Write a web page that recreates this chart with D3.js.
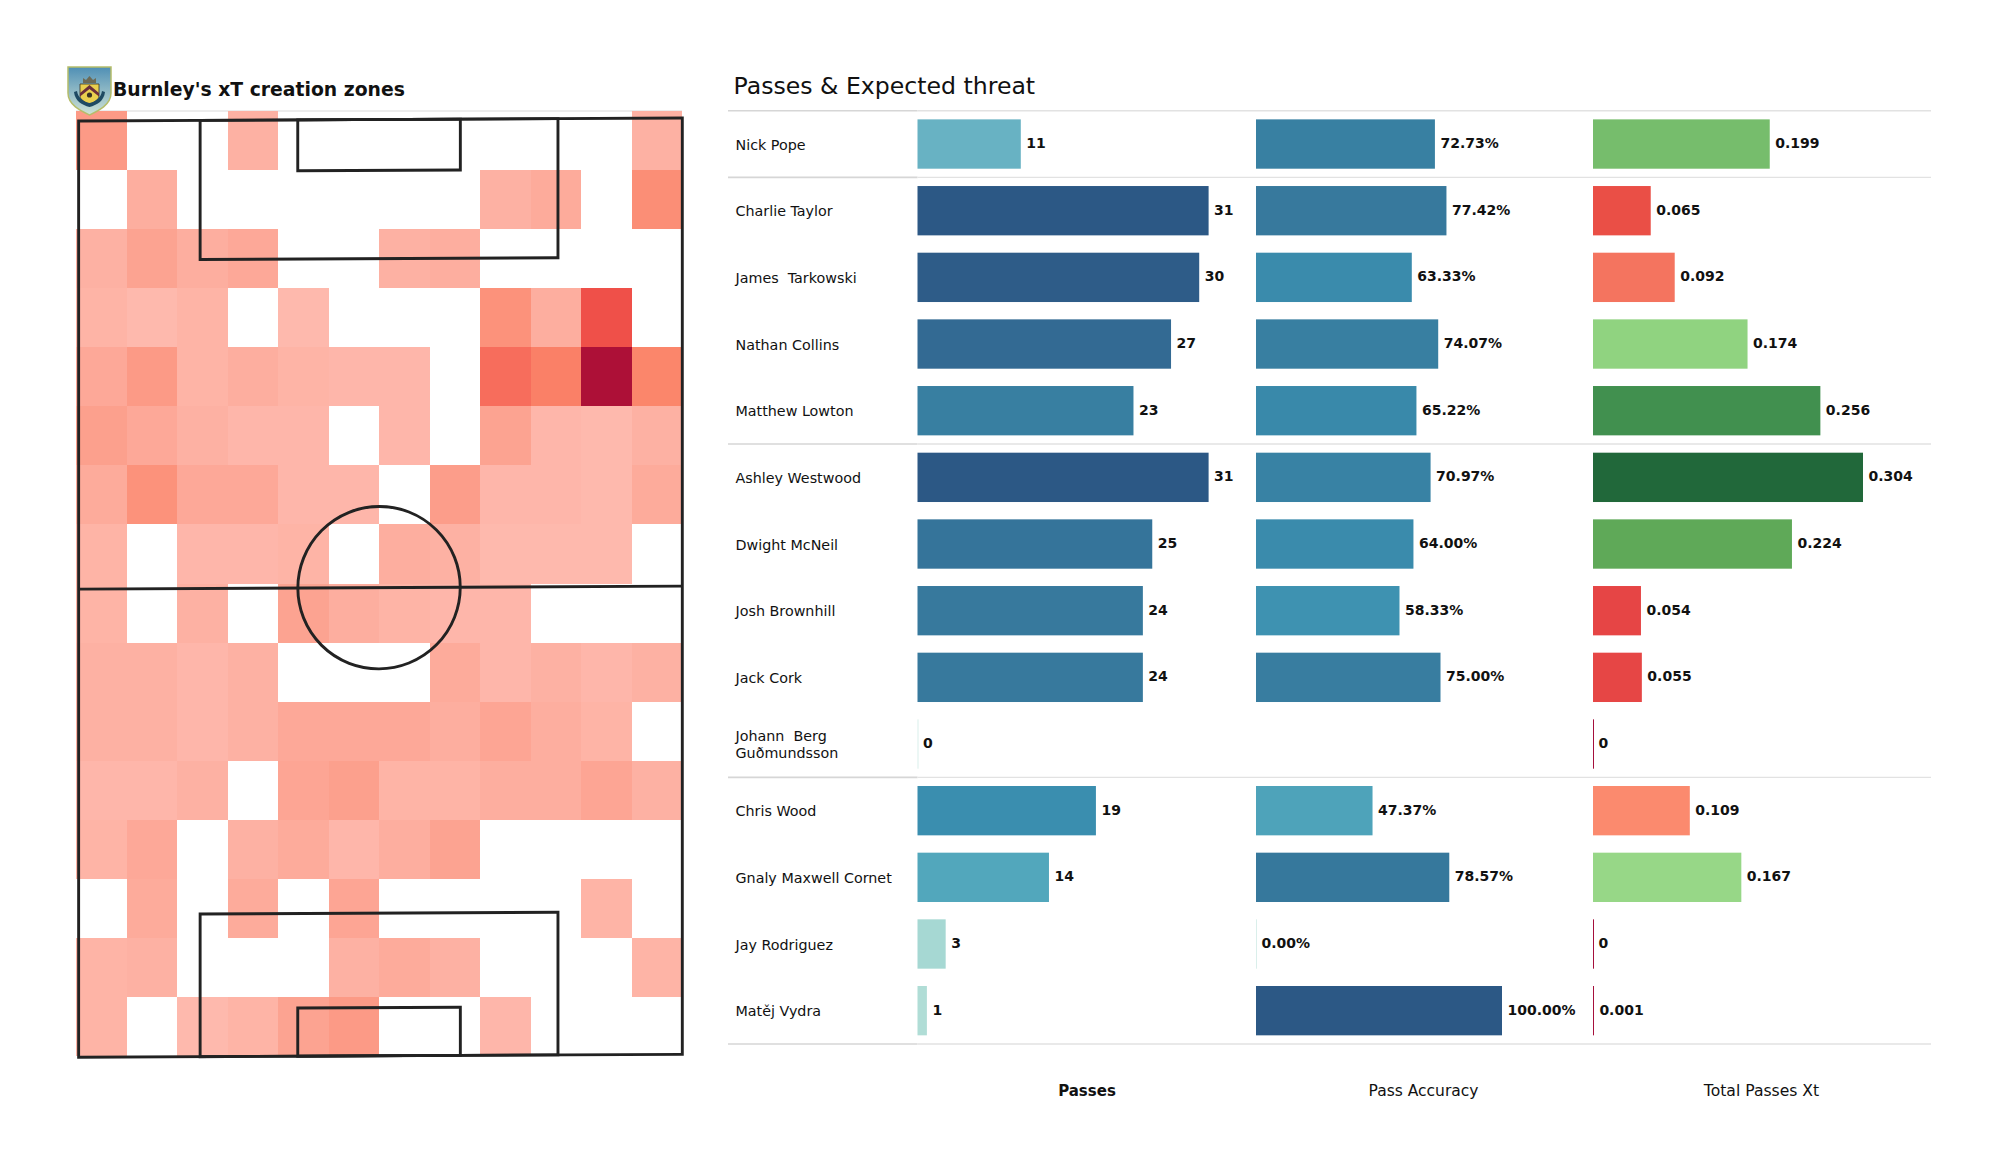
<!DOCTYPE html>
<html>
<head>
<meta charset="utf-8">
<title>Burnley xT</title>
<script src="https://cdnjs.cloudflare.com/ajax/libs/d3/7.8.5/d3.min.js"></script>
<style>
    body { margin: 0; background: #fff; }
    text { font-family: "DejaVu Sans", sans-serif; fill: #111; white-space: pre; }
</style>
</head>
<body>
<svg id="chart" width="2000" height="1175"></svg>
<script>
const playerNames = ["Nick Pope", "Charlie Taylor", "James  Tarkowski", "Nathan Collins", "Matthew Lowton",
    "Ashley Westwood", "Dwight McNeil", "Josh Brownhill", "Jack Cork", "Johann  Berg\nGuðmundsson",
    "Chris Wood", "Gnaly Maxwell Cornet", "Jay Rodriguez", "Matěj Vydra"];
const passes = [11, 31, 30, 27, 23, 31, 25, 24, 24, 0, 19, 14, 3, 1];
const passAccuracy = [72.73, 77.42, 63.33, 74.07, 65.22, 70.97, 64.00, 58.33, 75.00, null, 47.37, 78.57, 0.00, 100.00];
const passesXt = [0.199, 0.065, 0.092, 0.174, 0.256, 0.304, 0.224, 0.054, 0.055, 0, 0.109, 0.167, 0, 0.001];
const columnTitles = ["Passes", "Pass Accuracy", "Total Passes Xt"];

// row index after which a separator is drawn (-1 = above the first row)
const groupEnds = [-1, 0, 4, 9, 13];

// xT creation per zone, top of the pitch to the bottom, 12 columns
const xtZones = [
    [.20, 0, 0, .12, 0, 0, 0, 0, 0, 0, 0, .12],
    [0, .13, 0, 0, 0, 0, 0, 0, .12, .14, 0, .26],
    [.12, .17, .13, .15, 0, 0, .12, .13, 0, 0, 0, 0],
    [.11, .09, .11, 0, .09, 0, 0, 0, .24, .13, .55, 0],
    [.15, .20, .11, .13, .11, .10, .10, 0, .42, .33, 1, .30],
    [.18, .15, .12, .10, .10, 0, .10, 0, .17, .10, .09, .12],
    [.14, .24, .15, .15, .10, .10, 0, .19, .10, .10, .09, .14],
    [.11, 0, .10, .10, .11, 0, .13, .12, .09, .09, .09, 0],
    [.11, 0, .12, 0, .17, .13, .11, .10, .10, 0, 0, 0],
    [.12, .12, .10, .12, 0, 0, 0, .14, .10, .12, .10, .12],
    [.12, .12, .10, .12, .15, .15, .15, .13, .16, .13, .11, 0],
    [.10, .10, .12, 0, .16, .18, .11, .11, .13, .13, .16, .12],
    [.11, .15, 0, .12, .14, .10, .13, .17, 0, 0, 0, 0],
    [0, .14, 0, .14, 0, .16, 0, 0, 0, 0, .11, 0],
    [.11, .12, 0, 0, 0, .12, .14, .12, 0, 0, 0, .11],
    [.11, 0, .09, .11, .17, .20, 0, 0, .10, 0, 0, 0]
];

const svg = d3.select("#chart");

// ---- heatmap ----
const zoneX = d3.scaleBand().domain(d3.range(12)).range([76, 682]);
const zoneY = d3.scaleBand().domain(d3.range(16)).range([111, 1056]);
const zoneColor = d3.scaleLinear()
    .domain([.09, .13, .20, .30, .42, .55, 1])
    .range(["#feb9ad", "#fdae9f", "#fc9a86", "#fb866b", "#f76d5c", "#ef5049", "#ad1037"]);

svg.append("line")
    .attr("x1", 76).attr("x2", 682)
    .attr("y1", 111).attr("y2", 111)
    .attr("stroke", "#e6e6e6").attr("stroke-width", 1.5);

const zoneCells = xtZones.flatMap((row, r) => row.map((value, c) => ({r, c, value})));

svg.append("g")
    .attr("shape-rendering", "crispEdges")
    .selectAll("rect")
    .data(zoneCells.filter(d => d.value > 0))
    .enter()
    .append("rect")
    .attr("x", d => zoneX(d.c))
    .attr("y", d => zoneY(d.r))
    .attr("width", zoneX.bandwidth())
    .attr("height", zoneY.bandwidth())
    .attr("fill", d => zoneColor(d.value));

// ---- pitch lines, in metres ----
const pitchX = d3.scaleLinear().domain([0, 68]).range([77.3, 680.8]);
const pitchY = d3.scaleLinear().domain([0, 105]).range([119.5, 1055.8]);

// the photo of the pitch runs slightly uphill to the right
const pitch = svg.append("g")
    .attr("fill", "none")
    .attr("stroke", "#222")
    .attr("stroke-width", 2.9)
    .attr("transform", "translate(0,1.857) skewY(-0.28)");

function pitchRect(x0, x1, y0, y1) {
    pitch.append("rect")
        .attr("x", pitchX(x0))
        .attr("y", pitchY(y0))
        .attr("width", pitchX(x1) - pitchX(x0))
        .attr("height", pitchY(y1) - pitchY(y0));
}

pitchRect(0.15, 68.17, 0, 105);
pitchRect(13.84, 54.16, 0, 15.6);
pitchRect(24.84, 43.16, 0, 5.7);
pitchRect(13.84, 54.16, 89, 105);
pitchRect(24.84, 43.16, 99.6, 105);

pitch.append("line")
    .attr("x1", pitchX(0.15)).attr("x2", pitchX(68.17))
    .attr("y1", pitchY(52.5)).attr("y2", pitchY(52.5));

pitch.append("circle")
    .attr("cx", pitchX(34))
    .attr("cy", pitchY(52.5))
    .attr("r", pitchX(9.15) - pitchX(0));

// ---- crest ----
const crest = svg.append("g").attr("transform", "translate(68,67)");

const sky = svg.append("defs").append("linearGradient")
    .attr("id", "crest-sky")
    .attr("x1", 0).attr("x2", 0).attr("y1", 0).attr("y2", 1);
sky.append("stop").attr("offset", "0%").attr("stop-color", "#4f8fb5");
sky.append("stop").attr("offset", "100%").attr("stop-color", "#cfe3d6");

crest.append("path")
    .attr("d", "M0,0 H43 V26 C43,38 30,44 21.5,48 C13,44 0,38 0,26 Z")
    .attr("fill", "url(#crest-sky)")
    .attr("stroke", "#b5bd6a")
    .attr("stroke-width", 1.5);
crest.append("path")
    .attr("d", "M12,17 H31 V29 C31,33 25,36 21.5,37 C18,36 12,33 12,29 Z")
    .attr("fill", "#e9cf4e")
    .attr("stroke", "#3a3324")
    .attr("stroke-width", 0.8);
crest.append("path")
    .attr("d", "M12,26 L21.5,18 L31,26 V29.5 L21.5,22 L12,29.5 Z")
    .attr("fill", "#6b2f3a");
crest.append("path")
    .attr("d", "M15,16 V11 L18,13 L21.5,9 L25,13 L28,11 V16 Z")
    .attr("fill", "#6c6a55");
crest.append("path")
    .attr("d", "M6,25 C7,34 14,38 21.5,40 C29,38 36,34 37,25 L34,24 C33,31 27,35 21.5,36 C16,35 10,31 9,24 Z")
    .attr("fill", "#1f4a63");
crest.append("circle").attr("cx", 21.5).attr("cy", 28).attr("r", 2.6).attr("fill", "#3a3324");

svg.append("text")
    .attr("x", 113)
    .attr("y", 96)
    .attr("font-size", 18.8)
    .attr("font-weight", "bold")
    .text("Burnley's xT creation zones");

// ---- table of bars ----
svg.append("text")
    .attr("x", 733.5)
    .attr("y", 94.3)
    .attr("font-size", 23.6)
    .text("Passes & Expected threat");

const rowY = d3.scaleBand()
    .domain(d3.range(playerNames.length))
    .range([110.7, 1044])
    .paddingInner(0.26)
    .paddingOuter(0.13);

groupEnds.forEach(end => {
    const y = rowY(0) - rowY.step() * 0.13 + rowY.step() * (end + 1);
    svg.append("line")
        .attr("x1", 728).attr("x2", 917.5)
        .attr("y1", y).attr("y2", y)
        .attr("stroke", "#d6d6d6").attr("stroke-width", 1.6);
    svg.append("line")
        .attr("x1", 917.5).attr("x2", 1931)
        .attr("y1", y).attr("y2", y)
        .attr("stroke", "#e2e2e2").attr("stroke-width", 1.4);
});

const names = svg.append("g")
    .selectAll("text")
    .data(playerNames)
    .enter()
    .append("text")
    .attr("font-size", 14.3)
    .attr("fill", "#222");

names.each(function(name, i) {
    const lines = name.split("\n");
    const mid = rowY(i) + rowY.bandwidth() / 2;
    d3.select(this).selectAll("tspan")
        .data(lines)
        .enter()
        .append("tspan")
        .attr("x", 735.5)
        .attr("y", (d, k) => mid + 5.5 + (k - (lines.length - 1) / 2) * 17.5)
        .text(d => d);
});

// share of the column maximum -> bar colour
const blues = d3.scaleLinear()
    .domain([0, .1, .35, .45, .61, .74, .87, 1])
    .range(["#b5e0d8", "#a5d8d3", "#69b3c3", "#52a7bc", "#3a8eaf", "#387fa1", "#336a93", "#2c5885"]);
const xtColor = d3.scaleLinear()
    .domain([0, .054, .065, .092, .109, .1101, .167, .174, .199, .224, .256, .304])
    .range(["#a50f3c", "#e64545", "#ea4f46", "#f4745f", "#fb8a6e", "#97d787", "#97d787", "#90d380", "#76bd6c", "#5fa958", "#41904f", "#21683a"]);

const passX = d3.scaleLinear().domain([0, 31]).range([917.5, 1208.6]);
const accuracyX = d3.scaleLinear().domain([0, 100]).range([1256, 1502]);
const xtX = d3.scaleLinear().domain([0, 0.304]).range([1593, 1863]);

const columns = [
    {values: passes, x: passX, color: v => blues(v / 31), label: v => String(v), titleX: 1087, weight: "bold", titleSize: 15},
    {values: passAccuracy, x: accuracyX, color: v => blues(v / 100), label: v => v.toFixed(2) + "%", titleX: 1423.5, weight: "normal", titleSize: 15.5},
    {values: passesXt, x: xtX, color: v => xtColor(v), label: v => v === 0 ? "0" : v.toFixed(3), titleX: 1761.5, weight: "normal", titleSize: 15.6}
];

columns.forEach((col, c) => {
    const rows = col.values.map((value, i) => ({value, i})).filter(d => d.value !== null);
    const g = svg.append("g");

    g.selectAll("rect")
        .data(rows)
        .enter()
        .append("rect")
        .attr("x", col.x(0))
        .attr("y", d => rowY(d.i))
        .attr("width", d => Math.max(col.x(d.value) - col.x(0), 1)) // zero still shows as a hairline
        .attr("height", rowY.bandwidth())
        .attr("fill", d => col.color(d.value))
        .attr("fill-opacity", d => d.value === 0 && c < 2 ? 0.5 : 1);

    g.selectAll("text")
        .data(rows)
        .enter()
        .append("text")
        .attr("x", d => col.x(d.value) + 5.5)
        .attr("y", d => rowY(d.i) + rowY.bandwidth() / 2 + 4)
        .attr("font-size", 14)
        .attr("font-weight", "bold")
        .text(d => col.label(d.value));

    svg.append("text")
        .attr("x", col.titleX)
        .attr("y", 1096)
        .attr("text-anchor", "middle")
        .attr("font-size", col.titleSize)
        .attr("font-weight", col.weight)
        .attr("fill", "#222")
        .text(columnTitles[c]);
});
</script>
</body>
</html>
